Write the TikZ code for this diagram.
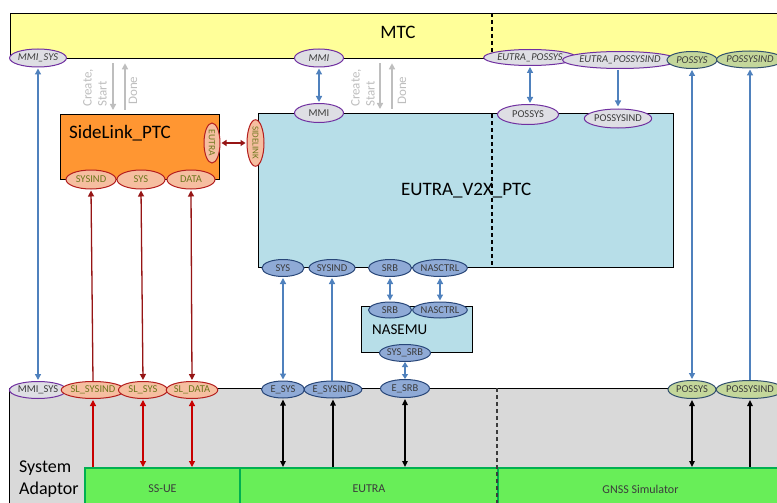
\documentclass[tikz,border=0pt]{standalone}
\usepackage{fontspec}
\setmainfont{Carlito}
\usetikzlibrary{shapes.geometric,arrows.meta}
\definecolor{mtcY}{RGB}{255,255,153}
\definecolor{slOr}{RGB}{255,150,50}
\definecolor{v2xB}{RGB}{183,222,232}
\definecolor{saG}{RGB}{217,217,217}
\definecolor{grG}{RGB}{104,238,88}
\definecolor{grB}{RGB}{0,176,80}
\definecolor{purp}{RGB}{112,48,160}
\definecolor{pgray}{RGB}{222,222,228}
\definecolor{dgray}{RGB}{60,60,60}
\definecolor{bfill}{RGB}{143,170,214}
\definecolor{bborder}{RGB}{40,70,120}
\definecolor{gfill}{RGB}{196,215,155}
\definecolor{gborder}{RGB}{50,80,110}
\definecolor{sfill}{RGB}{246,190,160}
\definecolor{sborder}{RGB}{180,30,30}
\definecolor{olivet}{RGB}{110,120,30}
\definecolor{arrB}{RGB}{79,129,189}
\definecolor{arrDR}{RGB}{150,20,20}
\definecolor{arrR}{RGB}{200,0,0}
\definecolor{lgr}{RGB}{190,190,190}
\tikzset{
  box/.style={draw=black, line width=1.3pt},
  pfont/.style={font=\fontsize{10.5}{11}\selectfont},
  port/.style={ellipse, inner sep=0pt, line width=1pt, pfont},
  pmtc/.style={port, draw=purp, fill=pgray, text=dgray, font=\fontsize{10.5}{11}\selectfont\itshape},
  pgrm/.style={port, draw=gborder, fill=gfill, text=dgray, font=\fontsize{10.5}{11}\selectfont\itshape},
  pblue/.style={port, draw=bborder, fill=bfill, text=dgray},
  pgreen/.style={port, draw=gborder, fill=gfill, text=dgray},
  psal/.style={port, draw=sborder, fill=sfill, text=olivet},
  bluearr/.style={draw=arrB, line width=1.3pt},
  drarr/.style={draw=arrDR, line width=1.3pt},
  rarr/.style={draw=arrR, line width=1.2pt},
  karr/.style={draw=black, line width=1.5pt},
  grarr/.style={draw=lgr, line width=1.5pt},
  glabel/.style={text=lgr, font=\fontsize{13}{15}\selectfont, rotate=90, anchor=west, align=left, inner sep=0pt},
  dashline/.style={line width=1.2pt, dash pattern=on 4pt off 3pt},
  greenbox/.style={draw=grB, fill=grG, line width=2pt, anchor=north west, font=\fontsize{12}{14}\selectfont, text=dgray},
  >={Triangle[length=6pt,width=6pt]}
}
\begin{document}
\begin{tikzpicture}[x=1pt,y=-1pt]
\useasboundingbox (0,0) rectangle (777,503);
\fill[white] (0,0) rectangle (777,503);
% boxes
\node[box, fill=mtcY, anchor=north west, minimum width=772pt, minimum height=45pt, inner sep=0pt] (mtc) at (10,13) {};
\draw[dashline] (492,13) -- (492,58);
\node[font=\fontsize{19}{22}\selectfont] (mtct) at (398,32) {MTC};
\node[box, fill=slOr, anchor=north west, minimum width=159pt, minimum height=65pt, inner sep=0pt] (sl) at (60,114) {};
\node[font=\fontsize{19}{22}\selectfont, anchor=west, inner sep=0pt] (slt) at (69,133) {SideLink\_PTC};
\node[box, fill=v2xB, anchor=north west, minimum width=415pt, minimum height=154pt, inner sep=0pt, font=\fontsize{19}{22}\selectfont] (v2x) at (258,113) {EUTRA\_V2X\_PTC};
\draw[dashline] (492,114) -- (492,266);
\node[box, fill=v2xB, anchor=north west, minimum width=111pt, minimum height=46pt, inner sep=0pt] (nas) at (361,306) {};
\node[font=\fontsize{15}{18}\selectfont, anchor=west, inner sep=0pt] (nast) at (372,330) {NASEMU};
\node[draw=black, line width=1.2pt, fill=saG, anchor=north west, minimum width=775pt, minimum height=125pt, inner sep=0pt] (sa) at (9,388) {};
\node[font=\fontsize{18}{22}\selectfont, align=left, anchor=west, inner sep=0pt] (sat) at (19,479) {System\\Adaptor};
\node[greenbox, minimum width=155pt, minimum height=42pt] (ssue) at (84,467) {SS-UE};
\node[greenbox, minimum width=258pt, minimum height=42pt] (eutra) at (239,467) {EUTRA};
\node[greenbox, minimum width=285pt, minimum height=42pt] (gnss) at (497,467) {GNSS Simulator};
\draw[dashline, draw=dgray] (497,388) -- (497,503);
% MTC ports
\node[pmtc, minimum width=48pt, minimum height=18pt] (mmisysT) at (38,58) {MMI\_SYS};
\node[pmtc, minimum width=49pt, minimum height=18pt] (mmiT) at (319,58) {MMI};
\node[pmtc, minimum width=71pt, minimum height=16pt] (epossysT) at (530,57.5) {EUTRA\_POSSYS};
\node[pmtc, minimum width=85pt, minimum height=17pt] (epossysindT) at (620,60) {EUTRA\_POSSYSIND};
\node[pgrm, minimum width=50pt, minimum height=17pt] (possysT) at (692,60) {POSSYS};
\node[pgrm, minimum width=54pt, minimum height=17pt] (possysindT) at (750,59.5) {POSSYSIND};
% V2X top ports
\node[pmtc, pfont, minimum width=49pt, minimum height=19pt] (mmiV) at (319,113) {MMI};
\node[pmtc, pfont, minimum width=61pt, minimum height=20pt] (possysV) at (528,114.5) {POSSYS};
\node[pmtc, pfont, minimum width=60pt, minimum height=19pt] (possysindV) at (618,118.5) {POSSYSIND};
% SideLink ports
\node[psal, minimum width=50pt, minimum height=19pt] (sysindS) at (91,179.5) {SYSIND};
\node[psal, minimum width=48pt, minimum height=19pt] (sysS) at (141,179.5) {SYS};
\node[psal, minimum width=48pt, minimum height=19pt] (dataS) at (191,179.5) {DATA};
\node[psal, minimum width=16pt, minimum height=40pt, font=\fontsize{9.5}{10}\selectfont] (eutraS) at (212,143) {\rotatebox{-90}{EUTRA}};
\node[psal, minimum width=17pt, minimum height=42pt, font=\fontsize{9}{10}\selectfont] (sidelinkV) at (255.5,143) {\rotatebox{-90}{SIDELINK}};
% V2X bottom ports
\node[pblue, minimum width=42pt, minimum height=17pt] (sysV) at (283,268) {SYS};
\node[pblue, minimum width=46pt, minimum height=17pt] (sysindV) at (332,268) {SYSIND};
\node[pblue, minimum width=43pt, minimum height=17pt] (srbV) at (390,268) {SRB};
\node[pblue, minimum width=48pt, minimum height=17pt] (nasctrlV) at (440,268) {NASCTRL};
% NASEMU ports
\node[pblue, minimum width=43pt, minimum height=16pt] (srbN) at (390,310) {SRB};
\node[pblue, minimum width=48pt, minimum height=16pt] (nasctrlN) at (440,310) {NASCTRL};
\node[pblue, minimum width=50pt, minimum height=17pt] (syssrbN) at (405,353) {SYS\_SRB};
% SA ports
\node[pmtc, pfont, minimum width=48pt, minimum height=17pt] (mmisysA) at (38,390) {MMI\_SYS};
\node[psal, minimum width=50pt, minimum height=17pt] (slsysindA) at (93,390) {SL\_SYSIND};
\node[psal, minimum width=49pt, minimum height=17pt] (slsysA) at (143,390) {SL\_SYS};
\node[psal, minimum width=49pt, minimum height=17pt] (sldataA) at (192,390) {SL\_DATA};
\node[pblue, minimum width=43pt, minimum height=17pt] (esysA) at (283,389.5) {E\_SYS};
\node[pblue, minimum width=50pt, minimum height=17pt] (esysindA) at (333,389.5) {E\_SYSIND};
\node[pblue, minimum width=49pt, minimum height=18pt] (esrbA) at (405,388.5) {E\_SRB};
\node[pgreen, minimum width=48pt, minimum height=18pt] (possysA) at (692,389.5) {POSSYS};
\node[pgreen, minimum width=54pt, minimum height=18pt] (possysindA) at (750,389.5) {POSSYSIND};
% gray create/start/done
\draw[grarr, ->, shorten <=4pt, shorten >=4pt] (113,0 |- mtc.south) -- (113,0 |- sl.north);
\draw[grarr, <-, shorten <=4pt, shorten >=4pt] (125,0 |- mtc.south) -- (125,0 |- sl.north);
\node[glabel] (cs1) at (95,107) {Create,\\Start};
\node[glabel] (dn1) at (133,105) {Done};
\draw[grarr, ->, shorten <=4pt, shorten >=4pt] (380,0 |- mtc.south) -- (380,0 |- v2x.north);
\draw[grarr, <-, shorten <=4pt, shorten >=4pt] (392,0 |- mtc.south) -- (392,0 |- v2x.north);
\node[glabel] (cs2) at (363,107) {Create,\\Start};
\node[glabel] (dn2) at (402,105) {Done};
% blue connectors
\draw[bluearr, <->, shorten <=1pt, shorten >=1pt] (mmisysT.south) -- (mmisysA.north);
\draw[bluearr, <->, shorten <=1pt, shorten >=1pt] (mmiT.south) -- (mmiV.north);
\draw[bluearr, <->, shorten <=1pt, shorten >=1pt] (epossysT.south) -- (epossysT.south |- possysV.north);
\draw[bluearr, ->, shorten <=1pt, shorten >=2pt] (epossysindT.south -| possysindV.north) -- (possysindV.north);
\draw[bluearr, <->, shorten <=1pt, shorten >=1pt] (possysT.south) -- (possysA.north);
\draw[bluearr, <-, shorten <=1pt] (possysindT.south) -- (possysindA.north);
\draw[bluearr, <->, shorten <=1pt, shorten >=1pt] (sysV.south) -- (esysA.north);
\draw[bluearr, <-, shorten <=1pt] (sysindV.south) -- (sysindV.south |- esysindA.north);
\draw[bluearr, <->, shorten <=1pt, shorten >=1pt] (srbV.south) -- (srbN.north);
\draw[bluearr, <->, shorten <=1pt, shorten >=1pt] (nasctrlV.south) -- (nasctrlN.north);
\draw[bluearr, <->, >={Triangle[length=5pt,width=6pt]}] (syssrbN.south) -- (esrbA.north);
% dark red connectors
\draw[drarr, <->, >={Triangle[length=5pt,width=6pt]}, shorten <=1pt, shorten >=1pt] (eutraS.east) -- (sidelinkV.west);
\draw[drarr, <-, shorten <=1pt] (sysindS.south) -- (slsysindA.north);
\draw[drarr, <->, shorten <=1pt, shorten >=1pt] (sysS.south) -- (slsysA.north);
\draw[drarr, <->, shorten <=1pt, shorten >=1pt] (dataS.south) -- (sldataA.north);
% red lower connectors
\draw[rarr, <-, shorten <=1pt] (slsysindA.south) -- (slsysindA.south |- ssue.north);
\draw[rarr, <->, shorten <=1pt] (slsysA.south) -- (slsysA.south |- ssue.north);
\draw[rarr, <->, shorten <=1pt] (sldataA.south) -- (sldataA.south |- ssue.north);
% black connectors
\draw[karr, <->, >={Triangle[length=6pt,width=5.5pt]}, shorten <=1pt] (esysA.south) -- (esysA.south |- eutra.north);
\draw[karr, <-, >={Triangle[length=6pt,width=5.5pt]}, shorten <=1pt] (esysindA.south) -- (esysindA.south |- eutra.north);
\draw[karr, <->, >={Triangle[length=6pt,width=5.5pt]}, shorten <=1pt] (esrbA.south) -- (esrbA.south |- eutra.north);
\draw[karr, <->, >={Triangle[length=6pt,width=5.5pt]}, shorten <=1pt] (possysA.south) -- (possysA.south |- gnss.north);
\draw[karr, <-, >={Triangle[length=6pt,width=5.5pt]}, shorten <=1pt] (possysindA.south) -- (possysindA.south |- gnss.north);
\end{tikzpicture}
\end{document}
